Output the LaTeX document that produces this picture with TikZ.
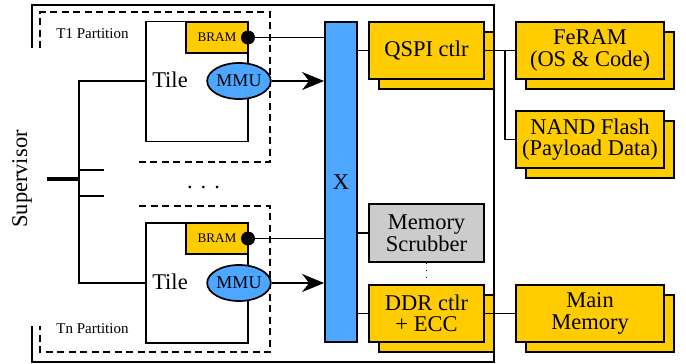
\documentclass[tikz,border=0pt]{standalone}
\usepackage{fontspec}
\setmainfont{Liberation Serif}
\usetikzlibrary{arrows.meta,shadows,shapes.geometric}
\definecolor{ylw}{RGB}{255,204,0}
\definecolor{blu}{RGB}{77,166,255}
\definecolor{gry}{RGB}{204,204,204}
\begin{document}
\begin{tikzpicture}[x=1pt,y=-1pt,
  conn/.style={line width=1.7pt},
  bigfont/.style={font=\fontsize{22.5}{21.5}\selectfont},
  plainbox/.style={draw, line width=1.8pt, inner sep=0pt, align=center, bigfont},
  ylwbox/.style={plainbox, fill=ylw, copy shadow={shadow xshift=10pt, shadow yshift=-10pt, fill=ylw, draw=black, line width=1.8pt}},
  tilebox/.style={draw, line width=1.7pt, minimum width=102pt, minimum height=120pt, inner sep=0pt},
  brambox/.style={draw, line width=1.7pt, fill=ylw, minimum width=62pt, minimum height=31pt, inner sep=0pt, font=\fontsize{13.2}{14}\selectfont},
  mmunode/.style={ellipse, draw, line width=1.7pt, fill=blu, minimum width=62pt, minimum height=36pt, inner sep=0pt, font=\fontsize{18}{18}\selectfont},
  dotnode/.style={circle, fill=black, minimum size=14pt, inner sep=0pt},
  partline/.style={line width=1.7pt, dash pattern=on 7pt off 4.5pt},
  partfont/.style={font=\fontsize{15}{15}\selectfont},
  arr/.style={conn, -{Stealth[length=22pt,width=18pt,inset=7pt]}}
]
\useasboundingbox (0,0) rectangle (686,364);

% outer box
\draw[line width=2pt] (32,48) -- (32,5) -- (494,5) -- (494,362) -- (32,362) -- (32,326);

% partitions
\draw[partline] (40,48) -- (40,12) -- (270,12) -- (270,162) -- (139,162);
\draw[partline] (139,206) -- (270,206) -- (270,352) -- (40,352) -- (40,326);
\node[partfont] (p1) at (92.5,34) {T1 Partition};
\node[partfont] (pn) at (92.5,329) {Tn Partition};

% tiles
\node[tilebox] (tile1) at (197,81.5) {};
\node[brambox] (bram1) at (217,37.5) {BRAM};
\node[dotnode] (dot1) at (248,37.5) {};
\node[mmunode] (mmu1) at (239,81) {MMU};
\node[bigfont] (tl1) at (170,80) {Tile};

\node[tilebox] (tile2) at (197,283) {};
\node[brambox] (bram2) at (217,238.5) {BRAM};
\node[dotnode] (dot2) at (248,238.5) {};
\node[mmunode] (mmu2) at (239,283) {MMU};
\node[bigfont] (tl2) at (170,281.5) {Tile};

\node[bigfont, anchor=base] (dots) at (203.5,188) {.\hspace{8pt}.\hspace{8pt}.};

% crossbar and controllers
\node[plainbox, fill=blu, minimum width=32pt, minimum height=320pt] (xbar) at (341,182) {X};
\node[ylwbox, minimum width=115pt, minimum height=57pt] (qspi) at (426.5,50.5) {QSPI ctlr};
\node[ylwbox, minimum width=148pt, minimum height=57pt] (feram) at (590,50.5) {FeRAM\\(OS \& Code)};
\node[ylwbox, minimum width=148pt, minimum height=57pt] (nand) at (590,139.5) {NAND Flash\\(Payload Data)};
\node[plainbox, fill=gry, minimum width=115pt, minimum height=58pt] (scrub) at (426.5,233) {Memory\\Scrubber};
\node[ylwbox, minimum width=115pt, minimum height=57pt] (ddr) at (426.5,313.5) {DDR ctlr\\+ ECC};
\node[ylwbox, minimum width=148pt, minimum height=57pt] (mainm) at (590,313.5) {Main\\Memory};

% supervisor
\node[bigfont, rotate=90] (sup) at (22,179) {Supervisor};
\coordinate (s1) at (79,81);
\coordinate (s2) at (79,283);
\coordinate (sb) at (79,179);
\coordinate (sl) at (47,179);
\coordinate (b1a) at (79,170);
\coordinate (b1b) at (104,170);
\coordinate (b2a) at (79,196);
\coordinate (b2b) at (104,196);
\draw[conn] (tile1.west |- mmu1) -- (s1) -- (s2) -- (tile2.west |- mmu2);
\draw[conn] (b1a) -- (b1b);
\draw[conn] (b2a) -- (b2b);
\draw[line width=3.2pt] (sl) -- (sb);

% tile connections
\draw[conn] (dot1) -- (dot1 -| xbar.west);
\draw[conn] (dot2) -- (dot2 -| xbar.west);
\draw[arr] (mmu1.east) -- (mmu1 -| xbar.west);
\draw[arr] (mmu2.east) -- (mmu2 -| xbar.west);

% memory connections
\coordinate (br) at (505,50.5);
\draw[conn] (xbar.east |- qspi) -- (qspi.west);
\draw[conn] (qspi.east) -- (feram.west);
\draw[conn] (br) |- (nand.west);
\draw[conn] (xbar.east |- scrub) -- (scrub.west);
\draw[conn] (xbar.east |- ddr) -- (ddr.west);
\draw[conn] (ddr.east) -- (mainm.west);
\draw[line width=1.5pt, dash pattern=on 1.5pt off 5.5pt] (scrub.south) -- (ddr.north);
\end{tikzpicture}
\end{document}
